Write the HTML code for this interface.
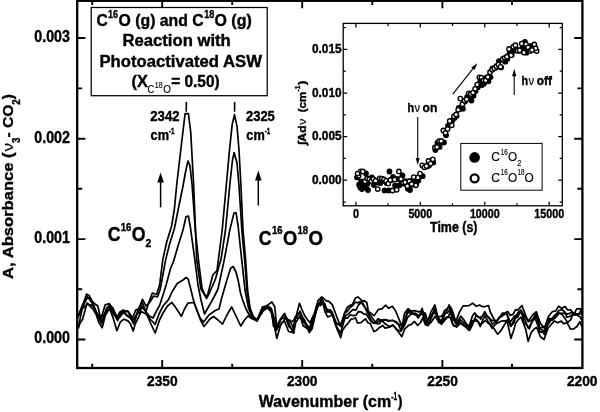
<!DOCTYPE html>
<html lang="en">
<head>
<meta charset="utf-8">
<title>CO2 photoproduction spectra</title>
<style>
html,body{margin:0;padding:0;background:#fff;}
body{width:600px;height:412px;overflow:hidden;}
svg{display:block;}
svg text{font-family:"Liberation Sans", "DejaVu Sans", sans-serif;fill:#000;stroke:#000;stroke-width:0.4px;}
</style>
</head>
<body>
<svg width="600" height="412" viewBox="0 0 600 412">
<rect x="0" y="0" width="600" height="412" fill="#fff"/>
<rect x="77.2" y="0.8" width="505.2" height="367.2" fill="none" stroke="#000" stroke-width="2.3"/>
<path d="M162.2 368.0V360.0 M162.2 0.8V8.3 M302.2 368.0V360.0 M302.2 0.8V8.3 M442.4 368.0V360.0 M442.4 0.8V8.3 M92.2 368.0V363.8 M92.2 0.8V5.0 M232.2 368.0V363.8 M232.2 0.8V5.0 M372.3 368.0V363.8 M372.3 0.8V5.0 M512.0 368.0V363.8 M512.0 0.8V5.0 M77.2 38.0H85.4 M582.4 38.0H574.1999999999999 M77.2 138.7H85.4 M582.4 138.7H574.1999999999999 M77.2 239.1H85.4 M582.4 239.1H574.1999999999999 M77.2 339.5H85.4 M582.4 339.5H574.1999999999999 M77.2 88.4H82.2 M582.4 88.4H577.4 M77.2 188.8H82.2 M582.4 188.8H577.4 M77.2 289.2H82.2 M582.4 289.2H577.4 " stroke="#000" stroke-width="1.9" fill="none"/>
<text x="34.3" y="41.8" font-size="16" font-weight="bold" textLength="35.6" lengthAdjust="spacingAndGlyphs">0.003</text>
<text x="34.3" y="142.5" font-size="16" font-weight="bold" textLength="35.6" lengthAdjust="spacingAndGlyphs">0.002</text>
<text x="34.3" y="242.9" font-size="16" font-weight="bold" textLength="35.6" lengthAdjust="spacingAndGlyphs">0.001</text>
<text x="34.3" y="343.3" font-size="16" font-weight="bold" textLength="35.6" lengthAdjust="spacingAndGlyphs">0.000</text>
<text x="147.0" y="386.4" font-size="15.5" font-weight="bold" textLength="30.6" lengthAdjust="spacingAndGlyphs">2350</text>
<text x="286.9" y="386.4" font-size="15.5" font-weight="bold" textLength="30.6" lengthAdjust="spacingAndGlyphs">2300</text>
<text x="427.3" y="386.4" font-size="15.5" font-weight="bold" textLength="30.6" lengthAdjust="spacingAndGlyphs">2250</text>
<text x="566.9" y="386.4" font-size="15.5" font-weight="bold" textLength="30.6" lengthAdjust="spacingAndGlyphs">2200</text>
<text x="258.7" y="407.0" font-size="17" font-weight="bold" textLength="132.5" lengthAdjust="spacingAndGlyphs">Wavenumber (cm</text>
<text x="391.3" y="400.3" font-size="10" font-weight="bold" textLength="5.8" lengthAdjust="spacingAndGlyphs">-1</text>
<text x="397.8" y="407.0" font-size="17" font-weight="bold" textLength="4.8" lengthAdjust="spacingAndGlyphs">)</text>
<text transform="translate(13.4,278.9) rotate(-90) scale(1,0.93)" font-size="16" font-weight="bold" textLength="126.5" lengthAdjust="spacingAndGlyphs">A, Absorbance (</text>
<text transform="translate(13.4,151.6) rotate(-90) scale(1,0.93)" font-size="15" font-weight="normal" textLength="8.6" lengthAdjust="spacingAndGlyphs" style="stroke-width:0.15px">ν</text>
<text transform="translate(19.8,143.0) rotate(-90) scale(1,0.93)" font-size="11" font-weight="bold" textLength="5.4" lengthAdjust="spacingAndGlyphs">3</text>
<text transform="translate(13.4,137.6) rotate(-90) scale(1,0.93)" font-size="16.5" font-weight="bold" textLength="33.0" lengthAdjust="spacingAndGlyphs"> - CO</text>
<text transform="translate(19.8,104.8) rotate(-90) scale(1,0.93)" font-size="11" font-weight="bold" textLength="5.4" lengthAdjust="spacingAndGlyphs">2</text>
<text transform="translate(13.4,99.2) rotate(-90) scale(1,0.93)" font-size="16.5" font-weight="bold" textLength="5.2" lengthAdjust="spacingAndGlyphs">)</text>
<rect x="91.2" y="7.5" width="176.0" height="88.2" fill="#fff" stroke="#000" stroke-width="1.25"/>
<text x="96.5" y="26.0" font-size="17" font-weight="bold" textLength="11.3" lengthAdjust="spacingAndGlyphs">C</text>
<text x="108.0" y="18.3" font-size="10.5" font-weight="bold" textLength="10.0" lengthAdjust="spacingAndGlyphs">16</text>
<text x="118.5" y="26.0" font-size="17" font-weight="bold" textLength="85.3" lengthAdjust="spacingAndGlyphs">O (g) and C</text>
<text x="204.2" y="18.3" font-size="10.5" font-weight="bold" textLength="10.0" lengthAdjust="spacingAndGlyphs">18</text>
<text x="214.5" y="26.0" font-size="17" font-weight="bold" textLength="37.2" lengthAdjust="spacingAndGlyphs">O (g)</text>
<text x="122.5" y="45.9" font-size="17" font-weight="bold" textLength="108.3" lengthAdjust="spacingAndGlyphs">Reaction with</text>
<text x="99.5" y="66.7" font-size="17" font-weight="bold" textLength="162.4" lengthAdjust="spacingAndGlyphs">Photoactivated ASW</text>
<text x="131.5" y="87.1" font-size="17" font-weight="bold" textLength="16.3" lengthAdjust="spacingAndGlyphs">(X</text>
<text x="147.5" y="93.0" font-size="10.5" font-weight="normal" textLength="6.8" lengthAdjust="spacingAndGlyphs" style="stroke-width:0.15px">C</text>
<text x="154.8" y="88.0" font-size="8.8" font-weight="normal" textLength="7.8" lengthAdjust="spacingAndGlyphs" style="stroke-width:0.15px">18</text>
<text x="163.2" y="93.0" font-size="10.5" font-weight="normal" textLength="7.7" lengthAdjust="spacingAndGlyphs" style="stroke-width:0.15px">O</text>
<text x="171.2" y="87.1" font-size="17" font-weight="bold" textLength="48.5" lengthAdjust="spacingAndGlyphs">= 0.50)</text>
<text x="150.3" y="121.0" font-size="14.3" font-weight="bold" textLength="29.2" lengthAdjust="spacingAndGlyphs">2342</text>
<text x="150.6" y="140.1" font-size="14.8" font-weight="bold" textLength="18.4" lengthAdjust="spacingAndGlyphs">cm</text>
<text x="169.0" y="134.2" font-size="9.5" font-weight="bold" textLength="5.6" lengthAdjust="spacingAndGlyphs">-1</text>
<text x="246.0" y="121.0" font-size="14.3" font-weight="bold" textLength="28.8" lengthAdjust="spacingAndGlyphs">2325</text>
<text x="246.3" y="140.1" font-size="14.8" font-weight="bold" textLength="18.4" lengthAdjust="spacingAndGlyphs">cm</text>
<text x="264.7" y="134.2" font-size="9.5" font-weight="bold" textLength="5.6" lengthAdjust="spacingAndGlyphs">-1</text>
<path d="M186.3 102V111.8 M234.6 102V111.8" stroke="#000" stroke-width="1.6" fill="none"/>
<path d="M160.6 207.4L160.6 181.6" stroke="#000" stroke-width="1.5" fill="none"/>
<path d="M160.6 172.6L163.9 182.6L157.3 182.6Z" fill="#000"/>
<path d="M258.3 205.5L258.3 179.5" stroke="#000" stroke-width="1.5" fill="none"/>
<path d="M258.3 170.5L261.6 180.5L255.0 180.5Z" fill="#000"/>
<text x="107.8" y="240.6" font-size="19.5" font-weight="bold" textLength="12.8" lengthAdjust="spacingAndGlyphs">C</text>
<text x="120.8" y="230.8" font-size="10.5" font-weight="bold" textLength="10.6" lengthAdjust="spacingAndGlyphs">16</text>
<text x="131.8" y="240.6" font-size="19.5" font-weight="bold" textLength="13.8" lengthAdjust="spacingAndGlyphs">O</text>
<text x="145.6" y="247.4" font-size="10.5" font-weight="bold" textLength="5.8" lengthAdjust="spacingAndGlyphs">2</text>
<text x="258.8" y="244.6" font-size="19.5" font-weight="bold" textLength="12.8" lengthAdjust="spacingAndGlyphs">C</text>
<text x="271.9" y="234.4" font-size="10.5" font-weight="bold" textLength="10.6" lengthAdjust="spacingAndGlyphs">16</text>
<text x="283.0" y="244.6" font-size="19.5" font-weight="bold" textLength="14.2" lengthAdjust="spacingAndGlyphs">O</text>
<text x="297.5" y="234.4" font-size="10.5" font-weight="bold" textLength="10.6" lengthAdjust="spacingAndGlyphs">18</text>
<text x="308.4" y="244.6" font-size="19.5" font-weight="bold" textLength="14.5" lengthAdjust="spacingAndGlyphs">O</text>
<path d="M78.0 317.8L81.9 306.3L84.5 300.6L87.0 295.9L89.3 298.9L92.2 303.2L96.3 313.1L100.7 317.1L103.9 314.5L106.9 312.8L109.4 306.4L112.7 312.2L116.9 319.0L120.1 316.8L123.4 312.5L125.8 311.3L128.3 312.0L131.4 319.1L133.2 320.1L135.5 316.2L138.4 311.9L141.2 306.6L146.0 311.0L149.0 302.0L152.3 293.0L156.6 294.5L159.6 285.0L162.8 259.6L166.7 242.0L171.5 226.6L174.4 209.0L176.7 185.0L181.0 148.0L185.1 113.7L188.4 113.7L190.7 132.0L193.5 182.0L196.7 259.6L201.0 289.4L206.0 297.0L207.7 294.5L212.8 275.0L217.0 270.7L218.4 259.6L222.2 230.0L226.6 182.0L229.5 150.0L232.2 124.4L234.5 114.7L237.0 126.4L239.0 150.0L240.9 185.0L243.0 230.0L245.6 259.6L247.6 290.0L250.0 308.0L253.0 316.0L257.0 320.0L262.5 306.9L266.8 306.3L268.9 304.1L271.8 302.0L274.7 306.5L276.8 327.1L280.2 319.6L284.6 313.5L288.3 321.4L290.3 327.0L293.5 332.5L295.2 316.9L297.5 315.9L300.0 311.1L303.4 319.9L306.1 323.4L309.9 328.9L313.6 316.7L316.8 309.3L318.8 304.6L321.8 297.9L324.0 304.8L327.3 309.4L330.0 310.0L332.1 311.9L335.2 323.5L337.9 324.0L340.3 325.7L344.8 313.2L347.5 311.0L350.0 307.5L353.1 305.3L355.1 302.1L358.1 302.8L360.4 301.6L364.2 300.7L366.8 302.5L369.3 316.7L373.5 323.4L376.1 323.0L379.4 320.7L381.7 320.0L385.0 319.6L388.9 321.2L392.5 320.3L395.6 321.6L397.6 322.8L401.1 330.4L404.9 319.2L407.8 310.5L412.0 313.0L415.1 313.3L419.4 316.3L422.2 308.4L424.4 320.4L428.7 324.1L431.9 314.4L435.0 308.9L438.0 317.8L441.6 321.3L444.2 310.9L447.8 308.2L450.7 307.1L453.7 314.6L455.7 323.3L458.1 320.5L460.7 316.1L464.1 320.1L466.8 324.5L469.2 326.0L472.6 315.6L474.8 312.9L477.7 316.9L480.4 317.5L484.9 314.4L488.8 317.3L492.2 324.2L496.3 321.6L499.9 317.5L502.4 313.2L506.6 313.7L510.3 322.1L514.5 316.1L518.0 315.1L521.7 311.8L525.3 316.9L528.5 321.7L532.7 319.5L536.5 312.0L539.7 327.8L543.6 327.2L546.9 325.9L549.6 322.1L551.9 318.6L554.4 315.5L558.0 313.0L561.1 313.4L565.1 313.1L567.6 314.1L572.2 312.2L576.5 313.8L580.7 314.0L582.0 312.1" stroke="#000" stroke-width="1.7" fill="none" stroke-linejoin="round"/>
<path d="M78.0 316.6L81.9 307.7L83.7 303.1L86.5 294.1L89.4 295.8L91.9 300.8L95.1 304.0L97.8 306.0L100.9 319.2L105.1 304.9L109.4 303.6L113.1 309.3L117.5 320.5L121.0 313.7L123.7 310.1L126.5 315.5L128.7 317.0L132.9 317.3L135.7 310.1L138.7 308.8L142.5 299.3L146.0 306.0L150.0 302.0L153.5 296.0L157.5 297.0L160.2 289.4L165.7 259.6L169.6 244.0L174.4 228.5L178.3 209.0L183.2 185.0L185.5 172.0L188.0 161.0L190.0 166.0L192.0 184.0L195.5 232.0L198.7 262.0L202.0 288.0L206.5 298.5L209.4 293.0L215.4 279.2L219.6 264.0L221.0 259.6L225.5 230.0L230.1 182.0L232.5 160.0L234.1 152.6L237.0 163.0L239.0 186.0L242.0 232.0L244.8 262.0L247.0 291.0L250.0 309.0L253.0 317.0L257.0 321.0L262.8 309.2L266.5 308.7L269.2 307.3L271.4 310.2L273.5 326.5L277.9 327.7L281.1 324.4L283.9 320.5L285.7 317.3L288.9 326.7L293.1 330.3L295.2 317.7L297.1 318.6L300.1 317.3L303.7 322.3L306.4 325.6L309.0 329.9L312.3 318.2L314.3 314.2L317.3 306.2L321.8 301.4L324.8 303.5L327.4 311.7L329.7 310.8L332.6 314.5L336.7 326.6L340.5 333.1L345.0 317.8L347.6 318.1L350.1 314.8L353.0 315.7L355.9 315.2L358.3 311.6L360.8 311.8L363.5 313.8L366.3 314.3L370.8 321.4L374.3 323.3L378.3 318.6L382.2 321.1L386.1 324.5L390.3 326.7L393.2 325.2L397.1 329.5L400.9 331.4L404.7 325.0L407.7 317.3L411.0 314.1L415.4 313.4L418.0 317.9L422.1 312.2L424.8 320.8L428.1 325.7L431.7 317.1L435.0 308.2L438.2 319.3L441.3 324.4L445.6 319.3L448.7 316.1L450.7 310.3L452.5 324.2L455.3 326.0L459.5 321.8L463.3 324.5L465.9 326.5L469.6 325.9L472.1 322.1L475.4 318.9L477.3 320.4L480.3 326.5L482.9 319.4L485.0 316.1L487.7 320.9L492.2 328.4L494.0 325.7L496.9 323.4L501.4 321.1L505.3 320.9L507.9 319.7L510.8 326.4L514.9 318.2L518.2 312.2L521.3 310.2L524.1 323.2L526.7 325.1L529.4 328.7L532.4 320.9L535.2 318.7L538.0 325.8L540.0 332.2L542.2 331.8L544.7 334.8L549.2 318.3L552.0 320.3L555.5 317.8L559.1 313.2L561.8 314.3L565.0 318.6L567.7 322.4L570.6 319.8L572.8 314.6L575.7 314.3L579.9 316.8L582.0 320.2" stroke="#000" stroke-width="1.7" fill="none" stroke-linejoin="round"/>
<path d="M78.0 328.8L81.7 311.0L84.3 303.5L87.3 297.8L90.5 298.5L92.9 303.1L95.7 310.2L97.9 316.7L101.1 322.5L105.5 312.4L109.8 307.2L114.2 314.9L117.6 315.8L121.3 312.4L123.6 312.7L127.2 315.2L131.1 319.1L133.8 324.0L137.4 312.8L139.8 313.1L142.0 306.2L146.0 312.0L149.4 316.0L153.0 318.0L156.0 312.0L159.6 305.4L163.9 292.3L166.1 285.0L170.4 269.0L173.8 260.6L178.0 246.0L183.0 230.0L186.1 216.5L188.4 216.0L190.5 228.0L194.8 259.6L198.0 285.0L201.0 300.0L204.5 314.0L209.0 306.0L214.0 297.0L218.0 289.0L224.3 259.6L229.8 230.0L234.0 213.0L236.0 212.5L238.0 225.0L241.7 259.6L245.0 290.0L248.5 308.0L252.0 317.0L257.0 320.0L261.9 312.7L264.2 308.2L267.0 305.4L271.3 308.5L274.4 319.4L276.6 330.5L280.2 320.1L284.4 314.1L287.4 321.6L289.7 320.0L293.8 328.9L295.2 319.8L299.5 303.3L302.8 311.7L304.9 316.1L307.9 320.2L310.0 322.6L314.2 314.1L317.9 300.9L321.8 296.8L326.3 300.8L329.0 301.3L332.4 304.9L336.1 315.0L339.3 323.3L341.1 326.7L344.5 313.0L347.1 307.6L349.3 305.7L352.5 304.3L355.4 298.1L357.9 296.9L361.2 299.8L365.5 308.4L367.5 313.1L370.7 315.4L374.2 320.6L376.1 323.5L379.2 324.0L382.1 320.1L384.7 319.9L388.5 320.4L392.8 320.6L395.1 322.0L398.4 324.4L402.1 325.6L404.5 313.6L407.9 308.8L411.5 311.1L414.8 310.6L418.6 311.9L422.4 310.9L424.8 315.0L427.3 322.6L430.7 312.4L434.9 305.0L437.6 316.3L441.2 322.2L445.3 313.6L449.2 304.9L453.3 319.0L455.6 323.2L457.8 323.2L460.4 319.5L464.1 323.1L466.9 325.3L469.8 330.1L472.8 324.1L476.1 315.4L478.3 316.6L480.8 319.2L484.8 311.7L488.1 317.5L492.5 320.7L496.9 320.6L500.1 316.8L502.6 313.8L505.2 313.0L507.7 311.4L510.1 315.3L513.1 314.4L515.3 309.9L518.0 309.9L521.9 305.5L525.7 315.6L528.3 321.3L532.4 315.2L536.1 312.0L540.5 323.4L544.3 328.2L548.7 316.0L552.3 311.8L555.8 310.9L558.6 306.2L561.7 308.3L565.1 306.5L567.6 310.0L570.8 309.9L573.6 314.8L576.7 308.9L580.0 308.6L582.0 312.0" stroke="#000" stroke-width="1.7" fill="none" stroke-linejoin="round"/>
<path d="M78.0 315.6L81.8 308.7L84.0 307.2L86.9 304.7L88.7 304.6L91.7 307.9L93.4 309.5L96.4 315.2L98.7 322.2L102.2 327.7L105.5 314.8L109.5 308.5L113.0 317.4L116.9 330.8L120.2 322.2L124.0 319.2L128.0 320.9L130.3 323.6L133.2 330.9L135.2 324.1L138.1 318.2L141.2 311.4L146.0 314.0L147.2 315.6L151.0 320.0L155.2 324.3L159.0 314.0L163.0 306.0L168.5 299.6L172.0 292.0L177.2 283.5L183.0 280.0L186.0 277.5L188.2 279.2L190.5 288.0L193.3 299.6L197.0 311.0L200.0 318.0L203.6 322.0L209.0 315.0L215.2 310.5L219.0 309.0L221.3 299.6L226.0 283.0L230.6 268.2L233.2 266.5L236.0 272.0L238.3 281.0L240.5 293.0L242.5 299.6L246.0 309.0L251.0 318.0L257.0 321.0L261.8 311.8L265.1 309.5L267.0 307.4L271.3 312.0L274.0 324.3L276.8 338.4L281.2 323.0L284.4 321.0L288.6 331.5L291.8 332.1L293.7 333.2L295.6 322.9L300.0 315.8L303.1 325.7L306.1 327.8L310.2 330.5L313.3 323.2L315.7 313.9L318.0 303.1L320.3 305.6L322.9 302.8L324.9 311.6L327.8 317.1L330.6 315.8L332.6 314.8L335.7 325.7L338.1 331.4L340.7 337.7L342.4 330.5L345.3 326.2L348.6 322.6L350.8 319.4L353.5 318.7L355.5 317.7L357.5 323.0L360.9 322.6L365.5 318.8L367.9 322.7L370.2 323.5L373.9 331.5L376.3 330.4L379.3 327.7L382.8 325.5L385.1 328.1L389.4 327.2L392.7 324.8L397.3 330.6L401.8 336.7L404.8 328.8L408.6 325.3L411.1 324.6L414.5 321.5L417.7 325.4L420.5 322.5L422.8 317.9L425.5 324.9L427.7 325.2L431.3 322.0L435.2 316.2L438.9 322.7L440.9 323.2L444.1 319.1L446.7 317.0L450.3 317.6L453.5 325.7L456.6 327.1L460.5 323.2L464.7 326.2L469.0 330.4L472.0 321.0L475.0 320.7L478.3 321.8L480.4 324.7L482.5 323.1L485.2 320.3L488.4 323.4L490.9 325.1L493.8 328.3L497.7 334.2L501.3 330.1L504.3 325.0L507.1 320.6L510.9 338.4L513.7 330.3L515.6 323.2L518.4 319.5L521.0 317.2L525.6 329.0L528.2 341.3L531.2 332.5L534.1 329.1L536.6 327.3L540.4 336.8L544.1 339.5L548.1 328.0L551.1 324.6L554.5 320.9L557.6 322.7L561.4 321.1L563.6 323.8L567.1 322.6L570.4 329.0L573.3 329.1L576.9 326.5L579.9 321.6L582.0 327.0" stroke="#000" stroke-width="1.7" fill="none" stroke-linejoin="round"/>
<path d="M78.0 328.7L80.2 322.7L82.6 319.3L87.1 303.0L89.5 305.0L92.0 304.6L96.2 312.0L99.2 316.3L101.9 323.6L106.5 308.1L109.2 305.5L112.8 307.8L117.3 317.8L119.6 312.1L122.7 310.2L124.6 311.2L127.7 310.8L131.5 315.9L134.3 321.9L137.9 310.5L142.4 302.7L146.0 312.0L150.0 322.0L155.2 333.0L159.5 320.0L163.0 313.0L167.5 306.0L171.9 302.5L176.0 308.0L181.4 316.3L184.5 309.0L187.9 303.2L193.8 302.5L197.0 310.0L200.5 320.0L204.0 326.5L209.7 319.3L213.5 316.5L218.0 320.0L222.5 324.2L227.0 315.0L231.6 306.8L236.0 316.0L240.7 326.0L244.5 320.0L248.0 316.0L252.0 318.5L257.0 319.5L262.1 312.7L264.3 306.3L267.5 307.5L270.1 309.9L273.5 317.5L276.2 328.7L278.8 322.3L281.7 318.8L285.2 317.5L289.7 321.1L292.7 321.3L296.9 316.0L299.5 312.5L302.7 317.6L304.8 320.6L309.3 332.6L312.3 328.2L314.0 317.9L317.5 304.1L319.6 304.6L323.0 301.0L326.7 312.0L329.4 311.7L333.2 315.2L336.4 323.0L340.2 325.2L344.5 316.9L346.5 315.1L349.5 312.9L352.7 309.7L356.2 309.9L358.3 305.1L361.2 302.5L363.4 305.5L366.3 309.3L370.9 313.3L374.2 315.6L378.2 309.6L382.3 308.6L385.6 305.2L388.6 308.3L392.3 306.3L395.5 310.7L397.6 315.8L400.3 322.3L402.4 328.2L404.8 322.1L407.4 313.0L411.5 312.7L415.1 314.8L419.0 315.6L422.6 312.8L425.3 313.1L427.4 320.4L432.0 315.4L434.3 312.4L437.9 316.5L441.2 316.5L444.5 312.6L447.3 312.9L450.1 309.1L453.4 316.6L456.1 320.9L459.4 312.1L463.1 305.9L465.7 305.9L468.9 305.6L472.7 303.2L476.3 306.3L479.5 305.0L481.7 306.4L484.4 306.8L488.5 305.5L490.3 312.0L493.2 317.8L496.4 322.9L499.3 316.9L501.4 316.6L503.4 315.3L506.2 312.4L508.9 319.8L510.8 326.2L513.7 323.2L515.9 317.4L517.7 317.2L520.6 310.2L524.8 319.4L528.2 328.0L531.2 323.4L533.3 319.6L536.2 315.9L539.5 328.5L541.7 329.5L544.2 331.7L546.9 325.4L549.9 319.6L552.8 318.2L555.3 315.7L558.6 310.8L562.0 309.5L564.8 312.0L566.8 317.1L569.7 316.5L572.5 314.3L575.9 314.9L579.4 313.4L582.0 308.0" stroke="#000" stroke-width="1.7" fill="none" stroke-linejoin="round"/>
<rect x="343.2" y="23.4" width="219.09999999999997" height="182.4" fill="#fff" stroke="#000" stroke-width="1.3"/>
<path d="M355.9 205.8V201.8 M355.9 23.4V27.4 M420.3 205.8V201.8 M420.3 23.4V27.4 M484.8 205.8V201.8 M484.8 23.4V27.4 M549.2 205.8V201.8 M549.2 23.4V27.4 M388.1 205.8V203.20000000000002 M388.1 23.4V26.0 M452.5 205.8V203.20000000000002 M452.5 23.4V26.0 M517.0 205.8V203.20000000000002 M517.0 23.4V26.0 M343.2 49.4H347.2 M562.3 49.4H558.3 M343.2 93.0H347.2 M562.3 93.0H558.3 M343.2 136.6H347.2 M562.3 136.6H558.3 M343.2 180.2H347.2 M562.3 180.2H558.3 M343.2 27.6H345.8 M562.3 27.6H559.6999999999999 M343.2 71.2H345.8 M562.3 71.2H559.6999999999999 M343.2 114.8H345.8 M562.3 114.8H559.6999999999999 M343.2 158.4H345.8 M562.3 158.4H559.6999999999999 M343.2 202.0H345.8 M562.3 202.0H559.6999999999999 " stroke="#000" stroke-width="1.25" fill="none"/>
<text x="312.0" y="53.1" font-size="13" font-weight="bold" textLength="29.6" lengthAdjust="spacingAndGlyphs">0.015</text>
<text x="312.0" y="96.7" font-size="13" font-weight="bold" textLength="29.6" lengthAdjust="spacingAndGlyphs">0.010</text>
<text x="312.0" y="140.3" font-size="13" font-weight="bold" textLength="29.6" lengthAdjust="spacingAndGlyphs">0.005</text>
<text x="312.0" y="183.9" font-size="13" font-weight="bold" textLength="29.6" lengthAdjust="spacingAndGlyphs">0.000</text>
<text x="352.9" y="217.6" font-size="13" font-weight="bold" textLength="6.0" lengthAdjust="spacingAndGlyphs">0</text>
<text x="408.4" y="217.6" font-size="13" font-weight="bold" textLength="23.8" lengthAdjust="spacingAndGlyphs">5000</text>
<text x="469.9" y="217.6" font-size="13" font-weight="bold" textLength="29.8" lengthAdjust="spacingAndGlyphs">10000</text>
<text x="534.3" y="217.6" font-size="13" font-weight="bold" textLength="29.8" lengthAdjust="spacingAndGlyphs">15000</text>
<text x="430.0" y="232.0" font-size="14.5" font-weight="bold" textLength="47.5" lengthAdjust="spacingAndGlyphs">Time (s)</text>
<text transform="translate(305.8,145.0) rotate(-90) scale(1,0.93)" font-size="12.5" font-weight="bold" textLength="19.6" lengthAdjust="spacingAndGlyphs">∫Ad</text>
<text transform="translate(305.8,125.0) rotate(-90) scale(1,0.93)" font-size="12.5" font-weight="normal" textLength="6.4" lengthAdjust="spacingAndGlyphs" style="stroke-width:0.15px">ν</text>
<text transform="translate(305.8,112.2) rotate(-90) scale(1,0.93)" font-size="12.5" font-weight="bold" textLength="20.4" lengthAdjust="spacingAndGlyphs">(cm</text>
<text transform="translate(299.6,91.4) rotate(-90) scale(1,0.93)" font-size="8.5" font-weight="bold" textLength="5.8" lengthAdjust="spacingAndGlyphs">-1</text>
<text transform="translate(305.8,85.0) rotate(-90) scale(1,0.93)" font-size="12.5" font-weight="bold" textLength="4.4" lengthAdjust="spacingAndGlyphs">)</text>
<circle cx="357.0" cy="177.4" r="2.9" fill="#000"/><circle cx="359.1" cy="184.7" r="2.9" fill="#000"/><circle cx="361.2" cy="181.5" r="2.9" fill="#000"/><circle cx="363.4" cy="186.4" r="2.9" fill="#000"/><circle cx="365.5" cy="187.5" r="2.9" fill="#000"/><circle cx="367.6" cy="183.8" r="2.9" fill="#000"/><circle cx="369.7" cy="179.4" r="2.9" fill="#000"/><circle cx="371.8" cy="177.4" r="2.9" fill="#000"/><circle cx="373.9" cy="185.0" r="2.9" fill="#000"/><circle cx="376.1" cy="180.7" r="2.9" fill="#000"/><circle cx="378.2" cy="182.6" r="2.9" fill="#000"/><circle cx="380.3" cy="183.0" r="2.9" fill="#000"/><circle cx="382.4" cy="180.9" r="2.9" fill="#000"/><circle cx="384.5" cy="190.4" r="2.9" fill="#000"/><circle cx="386.7" cy="183.2" r="2.9" fill="#000"/><circle cx="388.8" cy="190.4" r="2.9" fill="#000"/><circle cx="390.9" cy="180.2" r="2.9" fill="#000"/><circle cx="393.0" cy="176.9" r="2.9" fill="#000"/><circle cx="395.1" cy="185.3" r="2.9" fill="#000"/><circle cx="397.3" cy="179.0" r="2.9" fill="#000"/><circle cx="399.4" cy="185.3" r="2.9" fill="#000"/><circle cx="401.5" cy="181.2" r="2.9" fill="#000"/><circle cx="403.6" cy="183.7" r="2.9" fill="#000"/><circle cx="405.7" cy="181.1" r="2.9" fill="#000"/><circle cx="407.8" cy="188.7" r="2.9" fill="#000"/><circle cx="410.0" cy="181.1" r="2.9" fill="#000"/><circle cx="412.1" cy="184.8" r="2.9" fill="#000"/><circle cx="414.2" cy="181.2" r="2.9" fill="#000"/><circle cx="416.3" cy="183.8" r="2.9" fill="#000"/><circle cx="418.4" cy="180.4" r="2.9" fill="#000"/><circle cx="420.6" cy="175.4" r="2.9" fill="#000"/><circle cx="422.7" cy="176.2" r="2.9" fill="#000"/><circle cx="424.8" cy="166.7" r="2.9" fill="#000"/><circle cx="426.9" cy="166.4" r="2.9" fill="#000"/><circle cx="429.0" cy="165.5" r="2.9" fill="#000"/><circle cx="431.2" cy="161.6" r="2.9" fill="#000"/><circle cx="433.3" cy="162.4" r="2.9" fill="#000"/><circle cx="435.4" cy="150.0" r="2.9" fill="#000"/><circle cx="437.5" cy="143.0" r="2.9" fill="#000"/><circle cx="439.6" cy="146.9" r="2.9" fill="#000"/><circle cx="441.7" cy="141.8" r="2.9" fill="#000"/><circle cx="443.9" cy="142.5" r="2.9" fill="#000"/><circle cx="446.0" cy="135.2" r="2.9" fill="#000"/><circle cx="448.1" cy="125.7" r="2.9" fill="#000"/><circle cx="450.2" cy="123.4" r="2.9" fill="#000"/><circle cx="452.3" cy="120.6" r="2.9" fill="#000"/><circle cx="454.5" cy="118.1" r="2.9" fill="#000"/><circle cx="456.6" cy="116.1" r="2.9" fill="#000"/><circle cx="458.7" cy="108.0" r="2.9" fill="#000"/><circle cx="460.8" cy="108.7" r="2.9" fill="#000"/><circle cx="462.9" cy="108.7" r="2.9" fill="#000"/><circle cx="465.0" cy="101.6" r="2.9" fill="#000"/><circle cx="467.2" cy="96.8" r="2.9" fill="#000"/><circle cx="469.3" cy="95.6" r="2.9" fill="#000"/><circle cx="471.4" cy="100.5" r="2.9" fill="#000"/><circle cx="473.5" cy="95.7" r="2.9" fill="#000"/><circle cx="475.6" cy="91.1" r="2.9" fill="#000"/><circle cx="477.8" cy="87.2" r="2.9" fill="#000"/><circle cx="479.9" cy="82.5" r="2.9" fill="#000"/><circle cx="482.0" cy="85.0" r="2.9" fill="#000"/><circle cx="484.1" cy="83.6" r="2.9" fill="#000"/><circle cx="486.2" cy="78.0" r="2.9" fill="#000"/><circle cx="488.4" cy="81.3" r="2.9" fill="#000"/><circle cx="490.5" cy="77.1" r="2.9" fill="#000"/><circle cx="492.6" cy="68.5" r="2.9" fill="#000"/><circle cx="494.7" cy="68.3" r="2.9" fill="#000"/><circle cx="496.8" cy="67.1" r="2.9" fill="#000"/><circle cx="498.9" cy="61.1" r="2.9" fill="#000"/><circle cx="501.1" cy="67.4" r="2.9" fill="#000"/><circle cx="503.2" cy="59.9" r="2.9" fill="#000"/><circle cx="505.3" cy="61.7" r="2.9" fill="#000"/><circle cx="507.4" cy="59.0" r="2.9" fill="#000"/><circle cx="509.5" cy="53.4" r="2.9" fill="#000"/><circle cx="511.7" cy="55.0" r="2.9" fill="#000"/><circle cx="513.8" cy="50.7" r="2.9" fill="#000"/><circle cx="515.9" cy="48.6" r="2.9" fill="#000"/><circle cx="518.0" cy="50.1" r="2.9" fill="#000"/><circle cx="520.1" cy="50.8" r="2.9" fill="#000"/><circle cx="522.3" cy="48.4" r="2.9" fill="#000"/><circle cx="524.4" cy="47.7" r="2.9" fill="#000"/><circle cx="526.5" cy="52.7" r="2.9" fill="#000"/><circle cx="528.6" cy="49.9" r="2.9" fill="#000"/><circle cx="530.7" cy="45.9" r="2.9" fill="#000"/><circle cx="532.8" cy="47.9" r="2.9" fill="#000"/><circle cx="535.0" cy="48.8" r="2.9" fill="#000"/><circle cx="524.9" cy="42.0" r="2.9" fill="#000"/><circle cx="360.3" cy="187.5" r="2.9" fill="#000"/><circle cx="366.0" cy="173.5" r="2.9" fill="#000"/><circle cx="389.5" cy="171.5" r="2.9" fill="#000"/><circle cx="362.0" cy="189.0" r="2.9" fill="#000"/><circle cx="368.0" cy="190.0" r="2.9" fill="#000"/><circle cx="410.0" cy="190.0" r="2.9" fill="#000"/><circle cx="402.5" cy="175.5" r="2.9" fill="#000"/><circle cx="358.6" cy="175.8" r="2.2" fill="#fff" stroke="#000" stroke-width="1.4"/><circle cx="360.7" cy="171.3" r="2.2" fill="#fff" stroke="#000" stroke-width="1.4"/><circle cx="362.8" cy="171.5" r="2.2" fill="#fff" stroke="#000" stroke-width="1.4"/><circle cx="365.0" cy="181.2" r="2.2" fill="#fff" stroke="#000" stroke-width="1.4"/><circle cx="367.1" cy="178.4" r="2.2" fill="#fff" stroke="#000" stroke-width="1.4"/><circle cx="369.2" cy="179.3" r="2.2" fill="#fff" stroke="#000" stroke-width="1.4"/><circle cx="371.3" cy="181.0" r="2.2" fill="#fff" stroke="#000" stroke-width="1.4"/><circle cx="373.4" cy="179.1" r="2.2" fill="#fff" stroke="#000" stroke-width="1.4"/><circle cx="375.5" cy="180.8" r="2.2" fill="#fff" stroke="#000" stroke-width="1.4"/><circle cx="377.7" cy="189.1" r="2.2" fill="#fff" stroke="#000" stroke-width="1.4"/><circle cx="379.8" cy="178.3" r="2.2" fill="#fff" stroke="#000" stroke-width="1.4"/><circle cx="381.9" cy="178.6" r="2.2" fill="#fff" stroke="#000" stroke-width="1.4"/><circle cx="384.0" cy="179.3" r="2.2" fill="#fff" stroke="#000" stroke-width="1.4"/><circle cx="386.1" cy="180.8" r="2.2" fill="#fff" stroke="#000" stroke-width="1.4"/><circle cx="388.3" cy="183.4" r="2.2" fill="#fff" stroke="#000" stroke-width="1.4"/><circle cx="390.4" cy="179.9" r="2.2" fill="#fff" stroke="#000" stroke-width="1.4"/><circle cx="392.5" cy="190.5" r="2.2" fill="#fff" stroke="#000" stroke-width="1.4"/><circle cx="394.6" cy="179.4" r="2.2" fill="#fff" stroke="#000" stroke-width="1.4"/><circle cx="396.7" cy="189.8" r="2.2" fill="#fff" stroke="#000" stroke-width="1.4"/><circle cx="398.9" cy="171.4" r="2.2" fill="#fff" stroke="#000" stroke-width="1.4"/><circle cx="401.0" cy="178.9" r="2.2" fill="#fff" stroke="#000" stroke-width="1.4"/><circle cx="403.1" cy="182.8" r="2.2" fill="#fff" stroke="#000" stroke-width="1.4"/><circle cx="405.2" cy="182.2" r="2.2" fill="#fff" stroke="#000" stroke-width="1.4"/><circle cx="407.3" cy="186.1" r="2.2" fill="#fff" stroke="#000" stroke-width="1.4"/><circle cx="409.4" cy="181.2" r="2.2" fill="#fff" stroke="#000" stroke-width="1.4"/><circle cx="411.6" cy="184.0" r="2.2" fill="#fff" stroke="#000" stroke-width="1.4"/><circle cx="413.7" cy="177.1" r="2.2" fill="#fff" stroke="#000" stroke-width="1.4"/><circle cx="415.8" cy="185.3" r="2.2" fill="#fff" stroke="#000" stroke-width="1.4"/><circle cx="417.9" cy="177.4" r="2.2" fill="#fff" stroke="#000" stroke-width="1.4"/><circle cx="420.0" cy="173.6" r="2.2" fill="#fff" stroke="#000" stroke-width="1.4"/><circle cx="422.2" cy="165.3" r="2.2" fill="#fff" stroke="#000" stroke-width="1.4"/><circle cx="424.3" cy="167.3" r="2.2" fill="#fff" stroke="#000" stroke-width="1.4"/><circle cx="426.4" cy="166.0" r="2.2" fill="#fff" stroke="#000" stroke-width="1.4"/><circle cx="428.5" cy="160.9" r="2.2" fill="#fff" stroke="#000" stroke-width="1.4"/><circle cx="430.6" cy="163.6" r="2.2" fill="#fff" stroke="#000" stroke-width="1.4"/><circle cx="432.8" cy="159.3" r="2.2" fill="#fff" stroke="#000" stroke-width="1.4"/><circle cx="434.9" cy="147.5" r="2.2" fill="#fff" stroke="#000" stroke-width="1.4"/><circle cx="437.0" cy="147.0" r="2.2" fill="#fff" stroke="#000" stroke-width="1.4"/><circle cx="439.1" cy="141.1" r="2.2" fill="#fff" stroke="#000" stroke-width="1.4"/><circle cx="441.2" cy="140.9" r="2.2" fill="#fff" stroke="#000" stroke-width="1.4"/><circle cx="443.3" cy="130.4" r="2.2" fill="#fff" stroke="#000" stroke-width="1.4"/><circle cx="445.5" cy="132.8" r="2.2" fill="#fff" stroke="#000" stroke-width="1.4"/><circle cx="447.6" cy="129.1" r="2.2" fill="#fff" stroke="#000" stroke-width="1.4"/><circle cx="449.7" cy="120.9" r="2.2" fill="#fff" stroke="#000" stroke-width="1.4"/><circle cx="451.8" cy="125.3" r="2.2" fill="#fff" stroke="#000" stroke-width="1.4"/><circle cx="453.9" cy="116.3" r="2.2" fill="#fff" stroke="#000" stroke-width="1.4"/><circle cx="456.1" cy="114.4" r="2.2" fill="#fff" stroke="#000" stroke-width="1.4"/><circle cx="458.2" cy="109.8" r="2.2" fill="#fff" stroke="#000" stroke-width="1.4"/><circle cx="460.3" cy="98.6" r="2.2" fill="#fff" stroke="#000" stroke-width="1.4"/><circle cx="462.4" cy="104.2" r="2.2" fill="#fff" stroke="#000" stroke-width="1.4"/><circle cx="464.5" cy="100.7" r="2.2" fill="#fff" stroke="#000" stroke-width="1.4"/><circle cx="466.6" cy="99.3" r="2.2" fill="#fff" stroke="#000" stroke-width="1.4"/><circle cx="468.8" cy="93.3" r="2.2" fill="#fff" stroke="#000" stroke-width="1.4"/><circle cx="470.9" cy="93.9" r="2.2" fill="#fff" stroke="#000" stroke-width="1.4"/><circle cx="473.0" cy="92.6" r="2.2" fill="#fff" stroke="#000" stroke-width="1.4"/><circle cx="475.1" cy="88.8" r="2.2" fill="#fff" stroke="#000" stroke-width="1.4"/><circle cx="477.2" cy="84.6" r="2.2" fill="#fff" stroke="#000" stroke-width="1.4"/><circle cx="479.4" cy="77.3" r="2.2" fill="#fff" stroke="#000" stroke-width="1.4"/><circle cx="481.5" cy="77.6" r="2.2" fill="#fff" stroke="#000" stroke-width="1.4"/><circle cx="483.6" cy="80.2" r="2.2" fill="#fff" stroke="#000" stroke-width="1.4"/><circle cx="485.7" cy="80.2" r="2.2" fill="#fff" stroke="#000" stroke-width="1.4"/><circle cx="487.8" cy="76.9" r="2.2" fill="#fff" stroke="#000" stroke-width="1.4"/><circle cx="490.0" cy="72.2" r="2.2" fill="#fff" stroke="#000" stroke-width="1.4"/><circle cx="492.1" cy="69.7" r="2.2" fill="#fff" stroke="#000" stroke-width="1.4"/><circle cx="494.2" cy="68.3" r="2.2" fill="#fff" stroke="#000" stroke-width="1.4"/><circle cx="496.3" cy="66.2" r="2.2" fill="#fff" stroke="#000" stroke-width="1.4"/><circle cx="498.4" cy="64.6" r="2.2" fill="#fff" stroke="#000" stroke-width="1.4"/><circle cx="500.5" cy="66.8" r="2.2" fill="#fff" stroke="#000" stroke-width="1.4"/><circle cx="502.7" cy="59.0" r="2.2" fill="#fff" stroke="#000" stroke-width="1.4"/><circle cx="504.8" cy="57.8" r="2.2" fill="#fff" stroke="#000" stroke-width="1.4"/><circle cx="506.9" cy="56.7" r="2.2" fill="#fff" stroke="#000" stroke-width="1.4"/><circle cx="509.0" cy="49.0" r="2.2" fill="#fff" stroke="#000" stroke-width="1.4"/><circle cx="511.1" cy="55.2" r="2.2" fill="#fff" stroke="#000" stroke-width="1.4"/><circle cx="513.3" cy="46.7" r="2.2" fill="#fff" stroke="#000" stroke-width="1.4"/><circle cx="515.4" cy="45.2" r="2.2" fill="#fff" stroke="#000" stroke-width="1.4"/><circle cx="517.5" cy="50.8" r="2.2" fill="#fff" stroke="#000" stroke-width="1.4"/><circle cx="519.6" cy="50.3" r="2.2" fill="#fff" stroke="#000" stroke-width="1.4"/><circle cx="521.7" cy="43.6" r="2.2" fill="#fff" stroke="#000" stroke-width="1.4"/><circle cx="523.9" cy="52.5" r="2.2" fill="#fff" stroke="#000" stroke-width="1.4"/><circle cx="526.0" cy="44.3" r="2.2" fill="#fff" stroke="#000" stroke-width="1.4"/><circle cx="528.1" cy="47.3" r="2.2" fill="#fff" stroke="#000" stroke-width="1.4"/><circle cx="530.2" cy="50.9" r="2.2" fill="#fff" stroke="#000" stroke-width="1.4"/><circle cx="532.3" cy="48.6" r="2.2" fill="#fff" stroke="#000" stroke-width="1.4"/><circle cx="534.4" cy="44.5" r="2.2" fill="#fff" stroke="#000" stroke-width="1.4"/><circle cx="536.6" cy="51.0" r="2.2" fill="#fff" stroke="#000" stroke-width="1.4"/><circle cx="357.6" cy="173.6" r="2.2" fill="#fff" stroke="#000" stroke-width="1.4"/><circle cx="535.6" cy="48.2" r="2.2" fill="#fff" stroke="#000" stroke-width="1.4"/><circle cx="532.0" cy="50.0" r="2.2" fill="#fff" stroke="#000" stroke-width="1.4"/>
<text x="407.6" y="112.4" font-size="13" font-weight="bold" textLength="6.6" lengthAdjust="spacingAndGlyphs">h</text>
<text x="414.4" y="112.4" font-size="13" font-weight="normal" textLength="5.6" lengthAdjust="spacingAndGlyphs" style="stroke-width:0.15px">ν</text>
<text x="422.6" y="112.4" font-size="13" font-weight="bold" textLength="14.8" lengthAdjust="spacingAndGlyphs">on</text>
<path d="M417.7 117.0L417.7 159.0" stroke="#000" stroke-width="1.1" fill="none"/>
<path d="M417.7 165.0L415.7 158.0L419.7 158.0Z" fill="#000"/>
<text x="521.6" y="84.8" font-size="13" font-weight="bold" textLength="6.6" lengthAdjust="spacingAndGlyphs">h</text>
<text x="528.4" y="84.8" font-size="13" font-weight="normal" textLength="5.6" lengthAdjust="spacingAndGlyphs" style="stroke-width:0.15px">ν</text>
<text x="536.8" y="84.8" font-size="13" font-weight="bold" textLength="15.2" lengthAdjust="spacingAndGlyphs">off</text>
<path d="M514.2 95.0L514.2 75.2" stroke="#000" stroke-width="1.1" fill="none"/>
<path d="M514.2 68.7L516.3 76.2L512.1 76.2Z" fill="#000"/>
<path d="M452.8 94.2L473.6 67.9" stroke="#000" stroke-width="1.1" fill="none"/>
<path d="M477.3 63.2L474.5 69.9L471.4 67.5Z" fill="#000"/>
<rect x="460.8" y="143.4" width="81.3" height="46.8" fill="#fff" stroke="#000" stroke-width="1.0"/>
<circle cx="474.6" cy="157.4" r="5.3" fill="#000"/>
<circle cx="474.6" cy="178.3" r="4.0" fill="#fff" stroke="#000" stroke-width="2.3"/>
<text x="491.2" y="161.3" font-size="13.2" font-weight="normal" textLength="8.8" lengthAdjust="spacingAndGlyphs" style="stroke-width:0.15px">C</text>
<text x="500.7" y="154.5" font-size="8.6" font-weight="normal" textLength="7.0" lengthAdjust="spacingAndGlyphs" style="stroke-width:0.15px">16</text>
<text x="507.9" y="161.3" font-size="13.2" font-weight="normal" textLength="9.2" lengthAdjust="spacingAndGlyphs" style="stroke-width:0.15px">O</text>
<text x="517.2" y="166.0" font-size="8.6" font-weight="normal" textLength="4.1" lengthAdjust="spacingAndGlyphs" style="stroke-width:0.15px">2</text>
<text x="491.2" y="182.2" font-size="13.2" font-weight="normal" textLength="8.8" lengthAdjust="spacingAndGlyphs" style="stroke-width:0.15px">C</text>
<text x="500.7" y="175.4" font-size="8.6" font-weight="normal" textLength="7.0" lengthAdjust="spacingAndGlyphs" style="stroke-width:0.15px">16</text>
<text x="507.9" y="182.2" font-size="13.2" font-weight="normal" textLength="9.2" lengthAdjust="spacingAndGlyphs" style="stroke-width:0.15px">O</text>
<text x="517.5" y="175.4" font-size="8.6" font-weight="normal" textLength="7.0" lengthAdjust="spacingAndGlyphs" style="stroke-width:0.15px">18</text>
<text x="524.6" y="182.2" font-size="13.2" font-weight="normal" textLength="9.2" lengthAdjust="spacingAndGlyphs" style="stroke-width:0.15px">O</text>
</svg>
</body>
</html>
